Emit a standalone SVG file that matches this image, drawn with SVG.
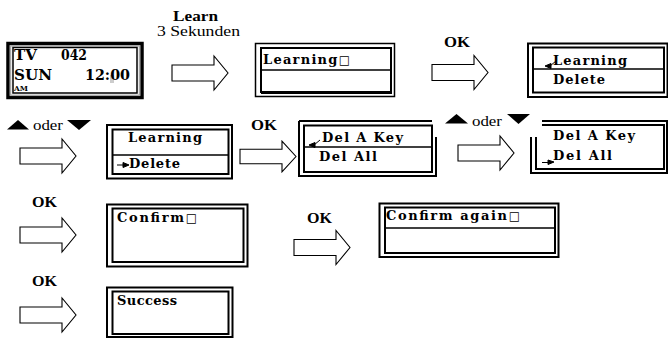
<svg xmlns="http://www.w3.org/2000/svg" width="668" height="338" viewBox="0 0 668 338">
<style>
  .bg{fill:#fff}
  .fo{fill:none;stroke:#000;stroke-width:2}
  .fi{fill:none;stroke:#000;stroke-width:2}
  .dv{stroke:#000;stroke-width:1.5}
  .lcd{font-weight:bold;font-size:13px;fill:#000}
  .sq{font-weight:normal;font-size:12px}
  .lbl{font-size:14px;fill:#000}
  .b{font-weight:bold}
  .arr{fill:#fff;stroke:#000;stroke-width:1.1}
  .tri{fill:#000}
  .cur{fill:#000;stroke:#000;stroke-width:1}
</style>
<defs>
  <path id="blk" d="M0,-8 H42 V-17 L56,0 L42,17 V8 H0 Z"/>
</defs>
<rect width="668" height="338" fill="#fff"/>

<g id="connectors" font-family="Liberation Serif, Times New Roman, serif">
  <use href="#blk" class="arr" transform="translate(172,73)"/>
  <use href="#blk" class="arr" transform="translate(432,72.5)"/>
  <use href="#blk" class="arr" transform="translate(20,156)"/>
  <use href="#blk" class="arr" transform="translate(240,156.5) scale(1,0.9)"/>
  <use href="#blk" class="arr" transform="translate(458,153)"/>
  <use href="#blk" class="arr" transform="translate(20,235)"/>
  <use href="#blk" class="arr" transform="translate(294,247.5)"/>
  <use href="#blk" class="arr" transform="translate(20,315)"/>
  <text class="lbl b" x="173" y="21" textLength="45" lengthAdjust="spacingAndGlyphs">Learn</text>
  <text class="lbl" x="157" y="36" textLength="83" lengthAdjust="spacingAndGlyphs">3 Sekunden</text>
  <text class="lbl b" x="444" y="47" textLength="26" lengthAdjust="spacingAndGlyphs">OK</text>
  <polygon class="tri" points="7,129.5 18,120 29,129.5"/>
  <text class="lbl" x="33" y="130" textLength="30" lengthAdjust="spacingAndGlyphs">oder</text>
  <polygon class="tri" points="67,120 91,120 79,130"/>
  <text class="lbl b" x="251" y="130" textLength="26" lengthAdjust="spacingAndGlyphs">OK</text>
  <polygon class="tri" points="445,123.5 456.5,114 468,123.5"/>
  <text class="lbl" x="472" y="126" textLength="30" lengthAdjust="spacingAndGlyphs">oder</text>
  <polygon class="tri" points="507,114 530,114 518.5,124"/>
  <text class="lbl b" x="32" y="207" textLength="25" lengthAdjust="spacingAndGlyphs">OK</text>
  <text class="lbl b" x="307" y="223" textLength="25" lengthAdjust="spacingAndGlyphs">OK</text>
  <text class="lbl b" x="32" y="286" textLength="25" lengthAdjust="spacingAndGlyphs">OK</text>
</g>

<g id="screens" font-family="DejaVu Serif, Liberation Serif, serif">
<g id="screen-tv">
  <rect class="bg" x="8" y="43.5" width="134" height="54"/>
  <rect fill="none" stroke="#000" stroke-width="3.5" x="8" y="43.5" width="134" height="54"/>
  <rect fill="none" stroke="#aaa" stroke-width="1.5" x="10.5" y="45.8" width="129" height="49.5"/>
  <rect fill="none" stroke="#000" stroke-width="1.5" x="13" y="47.5" width="124" height="45.5"/>
  <rect x="110" y="75" width="4" height="8" fill="#ccc"/>
  <text class="lcd" style="font-size:14px" x="14" y="60" textLength="23" lengthAdjust="spacingAndGlyphs">TV</text>
  <text class="lcd" style="font-size:14px" x="61" y="60" textLength="26" lengthAdjust="spacingAndGlyphs">042</text>
  <text class="lcd" style="font-size:14px" x="14" y="80" textLength="38" lengthAdjust="spacingAndGlyphs">SUN</text>
  <text class="lcd" style="font-size:14px" x="85" y="80" textLength="45" lengthAdjust="spacingAndGlyphs">12:00</text>
  <text class="lcd" style="font-size:7px" x="14" y="91" textLength="14" lengthAdjust="spacingAndGlyphs">AM</text>
</g>

<g id="screen-learning">
  <rect class="bg" x="255.5" y="43.5" width="139" height="53"/>
  <rect fill="none" stroke="#000" stroke-width="1.5" x="255.5" y="43.5" width="139" height="53"/>
  <rect class="fi" x="261" y="48" width="130" height="44"/>
  <line stroke="#000" stroke-width="2" x1="261" y1="93" x2="392" y2="93"/>
  <line class="dv" x1="261" y1="70" x2="391" y2="70"/>
  <text class="lcd" x="263" y="64" textLength="87" lengthAdjust="spacing">Learning<tspan class="sq" font-family="DejaVu Sans, sans-serif">□</tspan></text>
</g>

<g id="menu-learning-selected">
  <rect class="bg" x="528" y="43.5" width="139.5" height="53.5"/>
  <rect class="fo" x="528" y="43.5" width="139.5" height="53.5"/>
  <rect class="fi" x="533" y="47.5" width="131" height="45"/>
  <line class="dv" x1="533" y1="69" x2="664" y2="69"/>
  <polygon class="cur" points="545,66 551,63.5 551,68.5"/>
  <path d="M550,66 L556,61" stroke="#000" stroke-width="1" fill="none"/>
  <text class="lcd" x="553" y="65" textLength="74" lengthAdjust="spacing">Learning</text>
  <text class="lcd" x="553" y="84" textLength="52" lengthAdjust="spacing">Delete</text>
</g>

<g id="menu-delete-selected">
  <rect class="bg" x="107" y="125" width="125" height="53.5"/>
  <rect class="fo" x="107" y="125" width="125" height="53.5"/>
  <rect class="fi" x="112.5" y="129.5" width="116" height="44.5"/>
  <line class="dv" x1="112.5" y1="155" x2="228.5" y2="155"/>
  <text class="lcd" x="128" y="142" textLength="74" lengthAdjust="spacing">Learning</text>
  <line stroke="#000" stroke-width="1" x1="117" y1="165" x2="124" y2="165"/>
  <polygon class="cur" points="123,162.5 129,165 123,167.5"/>
  <text class="lcd" x="129" y="168" textLength="51" lengthAdjust="spacing">Delete</text>
</g>

<g id="menu-delakey-selected">
  <rect class="bg" x="299" y="121" width="137" height="55"/>
  <path class="fo" d="M299,121 H432 M436,137 V176 H299 V121"/>
  <path class="fi" d="M304,125.5 H432 V172 H304 Z"/>
  <line class="dv" x1="304" y1="147" x2="432" y2="147"/>
  <polygon class="cur" points="309,145 315,142.5 315,147.5"/>
  <path d="M314,145 L320,140" stroke="#000" stroke-width="1" fill="none"/>
  <text class="lcd" x="322" y="142" textLength="81" lengthAdjust="spacing">Del A Key</text>
  <text class="lcd" x="319" y="161" textLength="58" lengthAdjust="spacing">Del All</text>
</g>

<g id="menu-delall-selected">
  <rect class="bg" x="531" y="121" width="136.5" height="52"/>
  <path class="fo" d="M542,121 H668 M531,137 V173 H668 M667,121 V173"/>
  <path class="fi" d="M542,125 H664 V169 H536 V137"/>
  <text class="lcd" x="553" y="140" textLength="82" lengthAdjust="spacing">Del A Key</text>
  <line stroke="#000" stroke-width="1" x1="542" y1="162.5" x2="549" y2="162.5"/>
  <polygon class="cur" points="548,160 554,162 548,164.5"/>
  <text class="lcd" x="553" y="160" textLength="59" lengthAdjust="spacing">Del All</text>
</g>

<g id="screen-confirm">
  <rect class="bg" x="107" y="204.5" width="140.5" height="62"/>
  <rect class="fo" x="107" y="204.5" width="140.5" height="62"/>
  <rect class="fi" x="112.5" y="208.5" width="131" height="53.5"/>
  <text class="lcd" x="117" y="222" textLength="80" lengthAdjust="spacing">Confirm<tspan class="sq" font-family="DejaVu Sans, sans-serif">□</tspan></text>
</g>

<g id="screen-confirm-again">
  <rect class="bg" x="379.5" y="203.5" width="179" height="53.5"/>
  <rect class="fo" x="379.5" y="203.5" width="179" height="53.5"/>
  <rect class="fi" x="385" y="207.5" width="170" height="45.5"/>
  <line class="dv" x1="385" y1="228" x2="555" y2="228"/>
  <text class="lcd" x="386" y="220" textLength="134" lengthAdjust="spacing">Confirm again<tspan class="sq" font-family="DejaVu Sans, sans-serif">□</tspan></text>
</g>

<g id="screen-success">
  <rect class="bg" x="107" y="287.5" width="125.5" height="49.5"/>
  <rect class="fo" x="107" y="287.5" width="125.5" height="49.5"/>
  <rect class="fi" x="112.5" y="291.5" width="116" height="42.5"/>
  <text class="lcd" x="117" y="305" textLength="60" lengthAdjust="spacing">Success</text>
</g>
</g>
</svg>
